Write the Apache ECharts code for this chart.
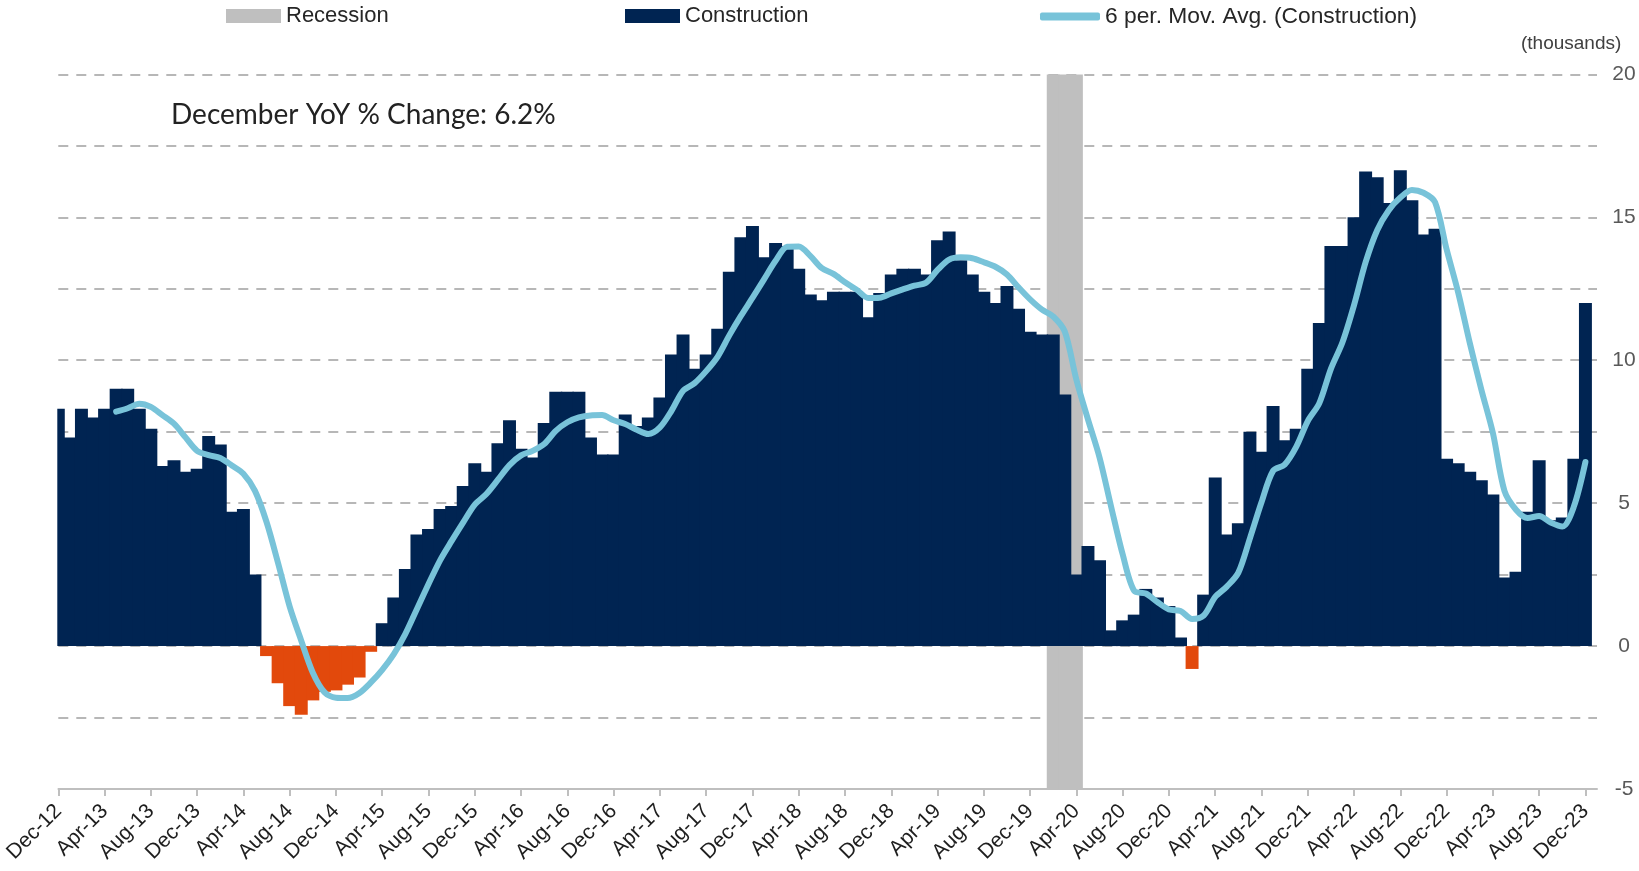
<!DOCTYPE html>
<html>
<head>
<meta charset="utf-8">
<script src="https://cdn.jsdelivr.net/npm/echarts@6/dist/echarts.min.js"></script>
<style>
  html, body { margin: 0; padding: 0; background: #fff; }
  #chart { width: 1639px; height: 871px; }
</style>
</head>
<body>
<div id="chart"></div>
<script>
// month labels Dec-12 .. Dec-23
const monthNames = ['Jan', 'Feb', 'Mar', 'Apr', 'May', 'Jun', 'Jul', 'Aug', 'Sep', 'Oct', 'Nov', 'Dec']
const months = []
for (let y = 2012, m = 11; y < 2024; m++) {
  if (m === 12) { m = 0; y++ }
  if (y === 2024) break
  months.push(monthNames[m] + '-' + String(y).slice(2))
}

// construction jobs, monthly YoY change (thousands)
const construction = [
  8.3, 7.3, 8.3, 8.0, 8.3, 9.0, 9.0, 8.3, 7.6, 6.3,
  6.5, 6.1, 6.2, 7.35, 7.05, 4.7, 4.8, 2.5, -0.35, -1.3,
  -2.1, -2.4, -1.9, -1.6, -1.55, -1.35, -1.1, -0.2, 0.8, 1.7,
  2.7, 3.9, 4.1, 4.8, 4.9, 5.6, 6.4, 6.1, 7.1, 7.9,
  6.9, 6.6, 7.8, 8.9, 8.9, 8.9, 7.3, 6.7, 6.7, 8.1,
  7.7, 8.0, 8.7, 10.2, 10.9, 9.7, 10.2, 11.1, 13.1, 14.3,
  14.7, 13.6, 14.1, 14.0, 13.2, 12.3, 12.1, 12.4, 12.4, 12.4,
  11.5, 12.35, 13.0, 13.2, 13.2, 13.0, 14.2, 14.5, 13.5, 13.0,
  12.4, 12.0, 12.6, 11.8, 11.0, 10.9, 10.9, 8.8, 2.5, 3.5,
  3.0, 0.55, 0.9, 1.1, 2.0, 1.7, 1.4, 0.3, -0.8, 1.8,
  5.9, 3.9, 4.3, 7.5, 6.8, 8.4, 7.2, 7.6, 9.7, 11.3,
  14.0, 14.0, 15.0, 16.6, 16.4, 15.5, 16.65, 15.6, 14.4, 14.6,
  6.55, 6.4, 6.1, 5.8, 5.3, 2.4, 2.6, 4.7, 6.5, 4.4,
  4.5, 6.55, 12.0
]

// 6 per. moving average as drawn (starts at the 6th month)
const movAvg = [
  null, null, null, null, null,
  8.2, 8.32, 8.48, 8.37, 8.08, 7.78, 7.3, 6.83, 6.68, 6.58,
  6.32, 6.03, 5.43, 4.34, 2.9, 1.38, 0.19, -0.93, -1.61, -1.81,
  -1.82, -1.65, -1.28, -0.83, -0.28, 0.43, 1.3, 2.17, 3.0, 3.68,
  4.33, 4.95, 5.32, 5.82, 6.33, 6.67, 6.83, 7.07, 7.53, 7.83,
  8.0, 8.07, 8.08, 7.9, 7.77, 7.57, 7.42, 7.65, 8.23, 8.93,
  9.2, 9.62, 10.13, 10.87, 11.55, 12.18, 12.83, 13.48, 13.97, 13.98,
  13.65, 13.22, 13.02, 12.73, 12.47, 12.18, 12.19, 12.34, 12.48, 12.61,
  12.71, 13.16, 13.52, 13.6, 13.57, 13.43, 13.27, 13.0, 12.55, 12.13,
  11.78, 11.53, 11.0, 9.32, 7.93, 6.6, 4.88, 3.21, 1.93, 1.84,
  1.54, 1.28, 1.23, 0.95, 1.07, 1.72, 2.08, 2.57, 3.77, 5.03,
  6.13, 6.35, 6.97, 7.87, 8.5, 9.7, 10.63, 11.93, 13.43, 14.55,
  15.25, 15.69, 15.96, 15.86, 15.53, 13.88, 12.37, 10.61, 8.98, 7.46,
  5.43, 4.77, 4.48, 4.55, 4.32, 4.18, 4.88, 6.44
]

const recessionMonths = ['Feb-20', 'Mar-20', 'Apr-20']
const recessionTop = 20
const recessionBottom = -5

const NAVY = '#002452'
const ORANGE = '#e2490c'
const GREY = '#bfbfbf'
const LIGHTBLUE = '#78c3d9'

const chart = echarts.init(document.getElementById('chart'))

const legendText = { fontFamily: 'Liberation Sans', fontSize: 22, color: '#262626' }
// bars a bit wider than the band so neighbours overlap and no hairline seams show
const barBase = { type: 'bar', barWidth: '112%', barGap: '-100%' }

chart.setOption({
  animation: false,
  // axis runs on the month ticks; one spare slot at the end so the last bar is whole
  grid: { left: 58.3, right: 42, top: 74.4, bottom: 82 },
  title: [
    {
      text: 'December YoY % Change: 6.2%',
      left: 171, top: 101, padding: 0,
      textStyle: { fontFamily: 'Lato', fontSize: 28, fontWeight: 'normal', color: '#222' }
    },
    {
      text: '(thousands)',
      left: 1521, top: 34, padding: 0,
      textStyle: { fontFamily: 'Liberation Sans', fontSize: 19, fontWeight: 'normal', color: '#404040' }
    }
  ],
  legend: [
    { data: ['Recession'], left: 226, top: 5, padding: 0, icon: 'rect', itemWidth: 55, itemHeight: 14, textStyle: legendText },
    { data: ['Construction'], left: 625, top: 5, padding: 0, icon: 'rect', itemWidth: 55, itemHeight: 14, textStyle: legendText },
    { data: ['6 per. Mov. Avg. (Construction)'], left: 1040, top: 5, padding: 0, icon: 'roundRect', itemWidth: 60, itemHeight: 8, textStyle: Object.assign({}, legendText, { fontSize: 22.8 }) }
  ],
  // the plot area starts at the Dec-12 tick: hide the left half of the first bar
  graphic: [{
    type: 'rect', z: 100, silent: true,
    shape: { x: 44, y: 60, width: 13.3, height: 735 },
    style: { fill: '#fff' }
  }],
  xAxis: {
    type: 'category',
    data: months.concat(['']),
    boundaryGap: false,
    axisLine: { onZero: false, lineStyle: { color: GREY, width: 2 } },
    axisTick: { interval: 3, length: 7, lineStyle: { color: GREY, width: 2 } },
    axisLabel: { interval: 3, rotate: 45, margin: 19, fontFamily: 'Liberation Sans', fontSize: 21, color: '#1e1e1e' }
  },
  yAxis: {
    type: 'value',
    position: 'right',
    min: -5, max: 20, interval: 2.5,
    axisLine: { show: false },
    axisTick: { show: false },
    axisLabel: {
      align: 'center', margin: 27,
      fontFamily: 'Liberation Sans', fontSize: 21, color: '#595959',
      formatter: v => (v % 5 === 0 ? String(v) : '')
    },
    splitLine: { lineStyle: { type: [10, 8], color: '#b7b7b7', width: 2 } }
  },
  series: [
    Object.assign({}, barBase, {
      name: 'Recession', stack: 'rec',
      itemStyle: { color: GREY },
      data: months.map(m => (recessionMonths.includes(m) ? recessionTop : '-'))
    }),
    Object.assign({}, barBase, {
      name: 'Recession', stack: 'rec',
      itemStyle: { color: GREY },
      data: months.map(m => (recessionMonths.includes(m) ? recessionBottom : '-'))
    }),
    Object.assign({}, barBase, {
      name: 'Construction',
      itemStyle: { color: NAVY },
      data: construction.map(v => (v < 0 ? { value: v, itemStyle: { color: ORANGE } } : v))
    }),
    {
      name: '6 per. Mov. Avg. (Construction)', type: 'line',
      data: movAvg,
      smooth: 0.3,
      showSymbol: false,
      itemStyle: { color: LIGHTBLUE },
      lineStyle: { color: LIGHTBLUE, width: 6, cap: 'round', join: 'round' },
      z: 5
    }
  ]
})
</script>
</body>
</html>
